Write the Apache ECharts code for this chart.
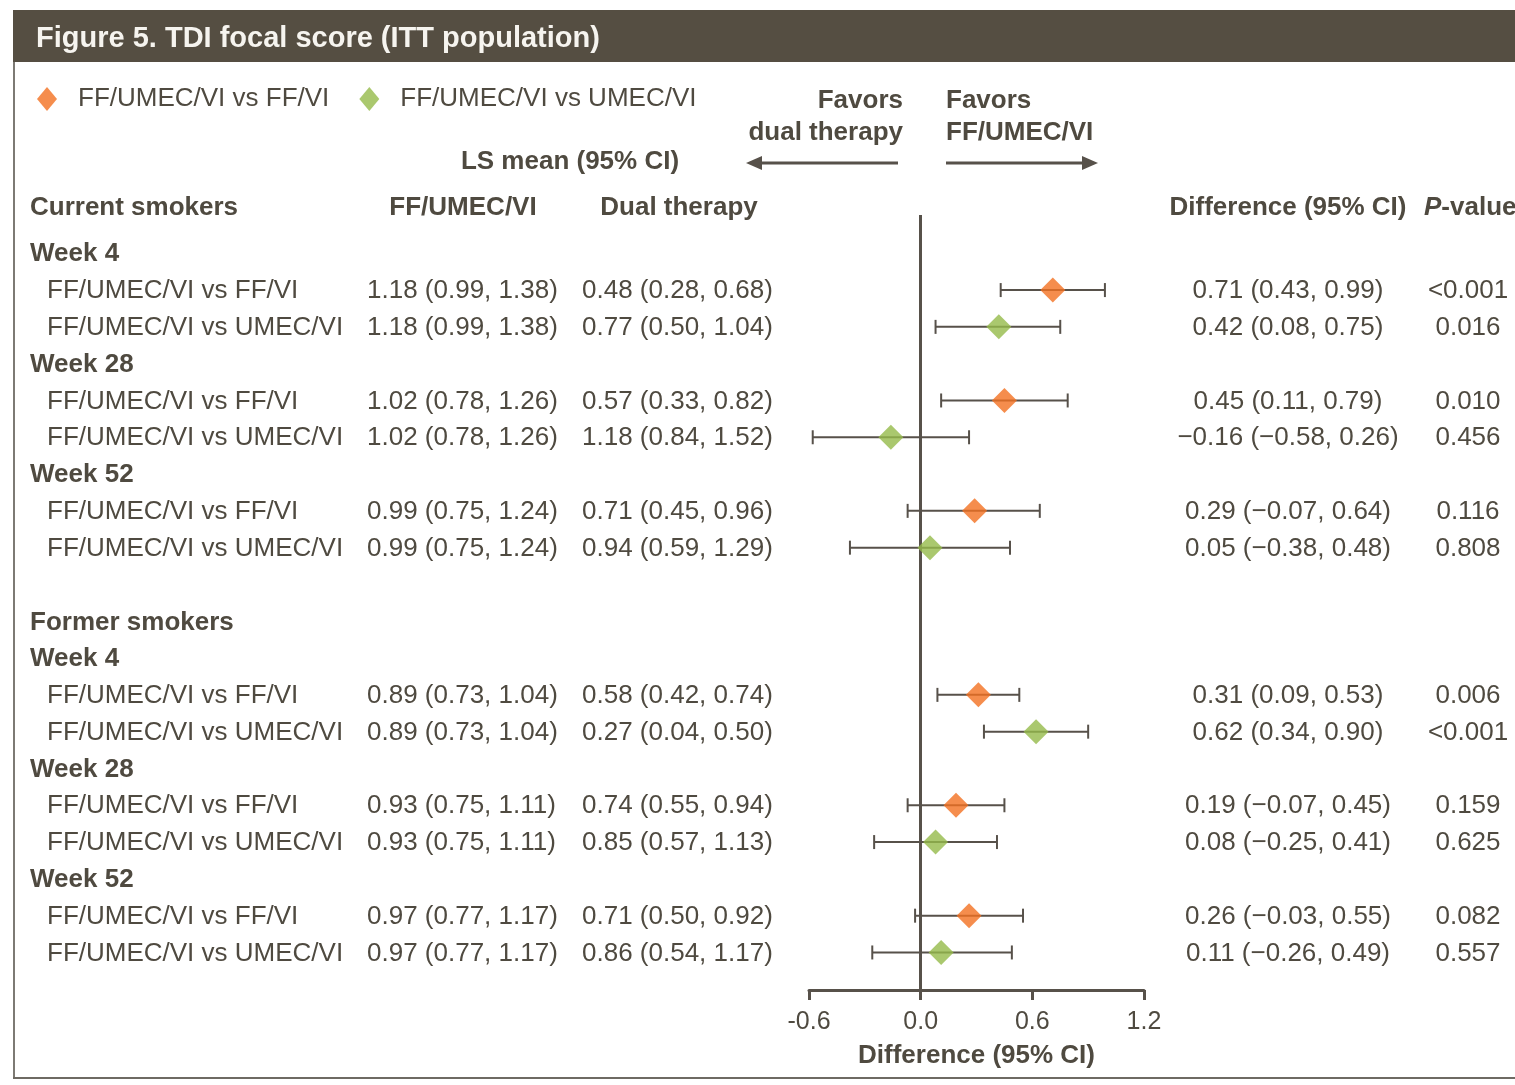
<!DOCTYPE html>
<html><head><meta charset="utf-8">
<script src="https://cdn.jsdelivr.net/npm/echarts@6/dist/echarts.min.js"></script>
<style>html,body{margin:0;padding:0;background:#fff}#c{width:1515px;height:1085px}</style>
</head><body><div id="c"></div>
<script>
// ---------- data ----------
const rowLabels = ['FF/UMEC/VI vs FF/VI','FF/UMEC/VI vs UMEC/VI','FF/UMEC/VI vs FF/VI','FF/UMEC/VI vs UMEC/VI','FF/UMEC/VI vs FF/VI','FF/UMEC/VI vs UMEC/VI',
                   'FF/UMEC/VI vs FF/VI','FF/UMEC/VI vs UMEC/VI','FF/UMEC/VI vs FF/VI','FF/UMEC/VI vs UMEC/VI','FF/UMEC/VI vs FF/VI','FF/UMEC/VI vs UMEC/VI'];
const rowComparison = [0,1,0,1,0,1,0,1,0,1,0,1]; // 0 = vs FF/VI, 1 = vs UMEC/VI
const rowIndex = [1,2,4,5,7,8,12,13,15,16,18,19];
const tripleMean = [1.18,1.18,1.02,1.02,0.99,0.99,0.89,0.89,0.93,0.93,0.97,0.97];
const tripleLo   = [0.99,0.99,0.78,0.78,0.75,0.75,0.73,0.73,0.75,0.75,0.77,0.77];
const tripleHi   = [1.38,1.38,1.26,1.26,1.24,1.24,1.04,1.04,1.11,1.11,1.17,1.17];
const dualMean = [0.48,0.77,0.57,1.18,0.71,0.94,0.58,0.27,0.74,0.85,0.71,0.86];
const dualLo   = [0.28,0.50,0.33,0.84,0.45,0.59,0.42,0.04,0.55,0.57,0.50,0.54];
const dualHi   = [0.68,1.04,0.82,1.52,0.96,1.29,0.74,0.50,0.94,1.13,0.92,1.17];
const diffMean = [0.71,0.42,0.45,-0.16,0.29,0.05,0.31,0.62,0.19,0.08,0.26,0.11];
const diffLo   = [0.43,0.08,0.11,-0.58,-0.07,-0.38,0.09,0.34,-0.07,-0.25,-0.03,-0.26];
const diffHi   = [0.99,0.75,0.79,0.26,0.64,0.48,0.53,0.90,0.45,0.41,0.55,0.49];
const pValues  = ['<0.001','0.016','0.010','0.456','0.116','0.808','0.006','<0.001','0.159','0.625','0.082','0.557'];
const groupLabels = ['Former smokers'];
const groupRows = [10];
const weekLabels = ['Week 4','Week 28','Week 52','Week 4','Week 28','Week 52'];
const weekRows = [0,3,6,11,14,17];
const seriesNames = ['FF/UMEC/VI vs FF/VI','FF/UMEC/VI vs UMEC/VI'];
const xTicks = [-0.6, 0.0, 0.6, 1.2];

// ---------- style ----------
const TXT = '#4f4a40';
const LINE = '#57514a';
const COLORS = ['#f37021','#95ba4a'];
const FONT = '"Liberation Sans", Arial, sans-serif';

const fmtNum = v => (v < 0 ? '\u2212' : '') + Math.abs(v).toFixed(2);
const fmtCI = (m, l, h) => fmtNum(m) + ' (' + fmtNum(l) + ', ' + fmtNum(h) + ')';

const chart = echarts.init(document.getElementById('c'), null, {renderer: 'canvas'});

const errData = rowIndex.map((r, i) => [diffLo[i], diffHi[i], r]);
const ptData = [0, 1].map(s => rowIndex.map((r, i) => rowComparison[i] === s ? [diffMean[i], r] : null).filter(Boolean));

const option = {
  animation: false,
  backgroundColor: '#fff',
  textStyle: {fontFamily: FONT},
  legend: {
    left: 32, top: 81,
    icon: 'diamond', itemWidth: 20, itemHeight: 24, itemGap: 30,
    selectedMode: false,
    textStyle: {color: TXT, fontSize: 26, fontFamily: FONT, padding: [0, 0, 0, 16]},
    data: seriesNames
  },
  grid: {left: 809, width: 335, top: 215, height: 775, containLabel: false},
  xAxis: {
    type: 'value', min: -0.6, max: 1.2, interval: 0.6,
    axisLine: {show: true, onZero: false, lineStyle: {color: LINE, width: 3}},
    axisTick: {show: true, inside: false, length: 10, lineStyle: {color: LINE, width: 3}},
    splitLine: {show: false},
    axisLabel: {color: TXT, fontSize: 25, margin: 20, fontFamily: FONT,
      formatter: v => { const t = xTicks.find(x => Math.abs(x - v) < 1e-6); return t === undefined ? '' : t.toFixed(1); }},
    name: 'Difference (95% CI)', nameLocation: 'middle', nameGap: 53,
    nameTextStyle: {color: TXT, fontSize: 26, fontWeight: 'bold', fontFamily: FONT}
  },
  yAxis: {
    type: 'value', inverse: true, min: -1.04, max: 20.02, show: false
  },
  series: [
    {
      type: 'custom', name: 'ci', z: 2,
      data: errData,
      renderItem: (params, api) => {
        const a = api.coord([api.value(0), api.value(2)]);
        const b = api.coord([api.value(1), api.value(2)]);
        const st = {stroke: LINE, lineWidth: 2};
        return {type: 'group', children: [
          {type: 'line', shape: {x1: a[0], y1: a[1], x2: b[0], y2: b[1]}, style: st},
          {type: 'line', shape: {x1: a[0], y1: a[1] - 7, x2: a[0], y2: a[1] + 7}, style: st},
          {type: 'line', shape: {x1: b[0], y1: b[1] - 7, x2: b[0], y2: b[1] + 7}, style: st}
        ]};
      },
      markLine: {
        silent: true, symbol: 'none', label: {show: false},
        lineStyle: {color: LINE, width: 3, type: 'solid'},
        data: [{xAxis: 0}]
      }
    },
    {type: 'scatter', name: seriesNames[0], symbol: 'diamond', symbolSize: [25, 25], z: 5,
     itemStyle: {color: COLORS[0]}, data: ptData[0]},
    {type: 'scatter', name: seriesNames[1], symbol: 'diamond', symbolSize: [25, 25], z: 5,
     itemStyle: {color: COLORS[1]}, data: ptData[1]}
  ],
  color: COLORS
};
chart.setOption(option);

// ---------- table text positioned through the y scale ----------
const yOf = r => chart.convertToPixel({gridIndex: 0}, [0, r])[1];
const g = [];
const txt = (x, y, s, o) => g.push(Object.assign({type: 'text', x: x, y: y, silent: true,
  style: Object.assign({text: s, fill: TXT, font: '26px ' + FONT, textVerticalAlign: 'middle', textAlign: 'left'}, o || {})}));
const bold = 'bold 26px ' + FONT;

// frame & header band
g.push({type: 'rect', shape: {x: 13, y: 10, width: 1502, height: 52}, style: {fill: '#554e42'}});
g.push({type: 'line', shape: {x1: 14, y1: 62, x2: 14, y2: 1078}, style: {stroke: '#7d7a74', lineWidth: 2}});
g.push({type: 'line', shape: {x1: 13, y1: 1078, x2: 1515, y2: 1078}, style: {stroke: '#6e6a63', lineWidth: 2}});
txt(36, 39, 'Figure 5. TDI focal score (ITT population)', {fill: '#f6f4ef', font: 'bold 29px ' + FONT});

// favors
txt(903, 101, 'Favors', {font: bold, textAlign: 'right'});
txt(903, 133, 'dual therapy', {font: bold, textAlign: 'right'});
txt(946, 101, 'Favors', {font: bold});
txt(946, 133, 'FF/UMEC/VI', {font: bold});
g.push({type: 'line', shape: {x1: 898, y1: 163, x2: 758, y2: 163}, style: {stroke: LINE, lineWidth: 3}});
g.push({type: 'polygon', shape: {points: [[746, 163], [762, 156], [762, 170]]}, style: {fill: LINE}});
g.push({type: 'line', shape: {x1: 946, y1: 163, x2: 1086, y2: 163}, style: {stroke: LINE, lineWidth: 3}});
g.push({type: 'polygon', shape: {points: [[1098, 163], [1082, 156], [1082, 170]]}, style: {fill: LINE}});

// column headers
txt(570, 162, 'LS mean (95% CI)', {font: bold, textAlign: 'center'});
txt(30, 208, 'Current smokers', {font: bold});
txt(463, 208, 'FF/UMEC/VI', {font: bold, textAlign: 'center'});
txt(679, 208, 'Dual therapy', {font: bold, textAlign: 'center'});
txt(1288, 208, 'Difference (95% CI)', {font: bold, textAlign: 'center'});
g.push({type: 'text', x: 1424, y: 208, silent: true, style: {
  text: '{i|P}{n|-value}', textVerticalAlign: 'middle', textAlign: 'left', fill: TXT,
  rich: {i: {font: 'italic bold 26px ' + FONT, fill: TXT}, n: {font: bold, fill: TXT}}}});

groupLabels.forEach((s, i) => txt(30, yOf(groupRows[i]) + 2, s, {font: bold}));
weekLabels.forEach((s, i) => txt(30, yOf(weekRows[i]) + 1, s, {font: bold}));
rowIndex.forEach((r, i) => {
  const y = yOf(r) + 1;
  txt(47, y, rowLabels[i]);
  txt(367, y, fmtCI(tripleMean[i], tripleLo[i], tripleHi[i]));
  txt(582, y, fmtCI(dualMean[i], dualLo[i], dualHi[i]));
  txt(1288, y, fmtCI(diffMean[i], diffLo[i], diffHi[i]), {textAlign: 'center'});
  txt(1468, y, pValues[i], {textAlign: 'center'});
});
chart.setOption({graphic: {elements: g}});
</script></body></html>
